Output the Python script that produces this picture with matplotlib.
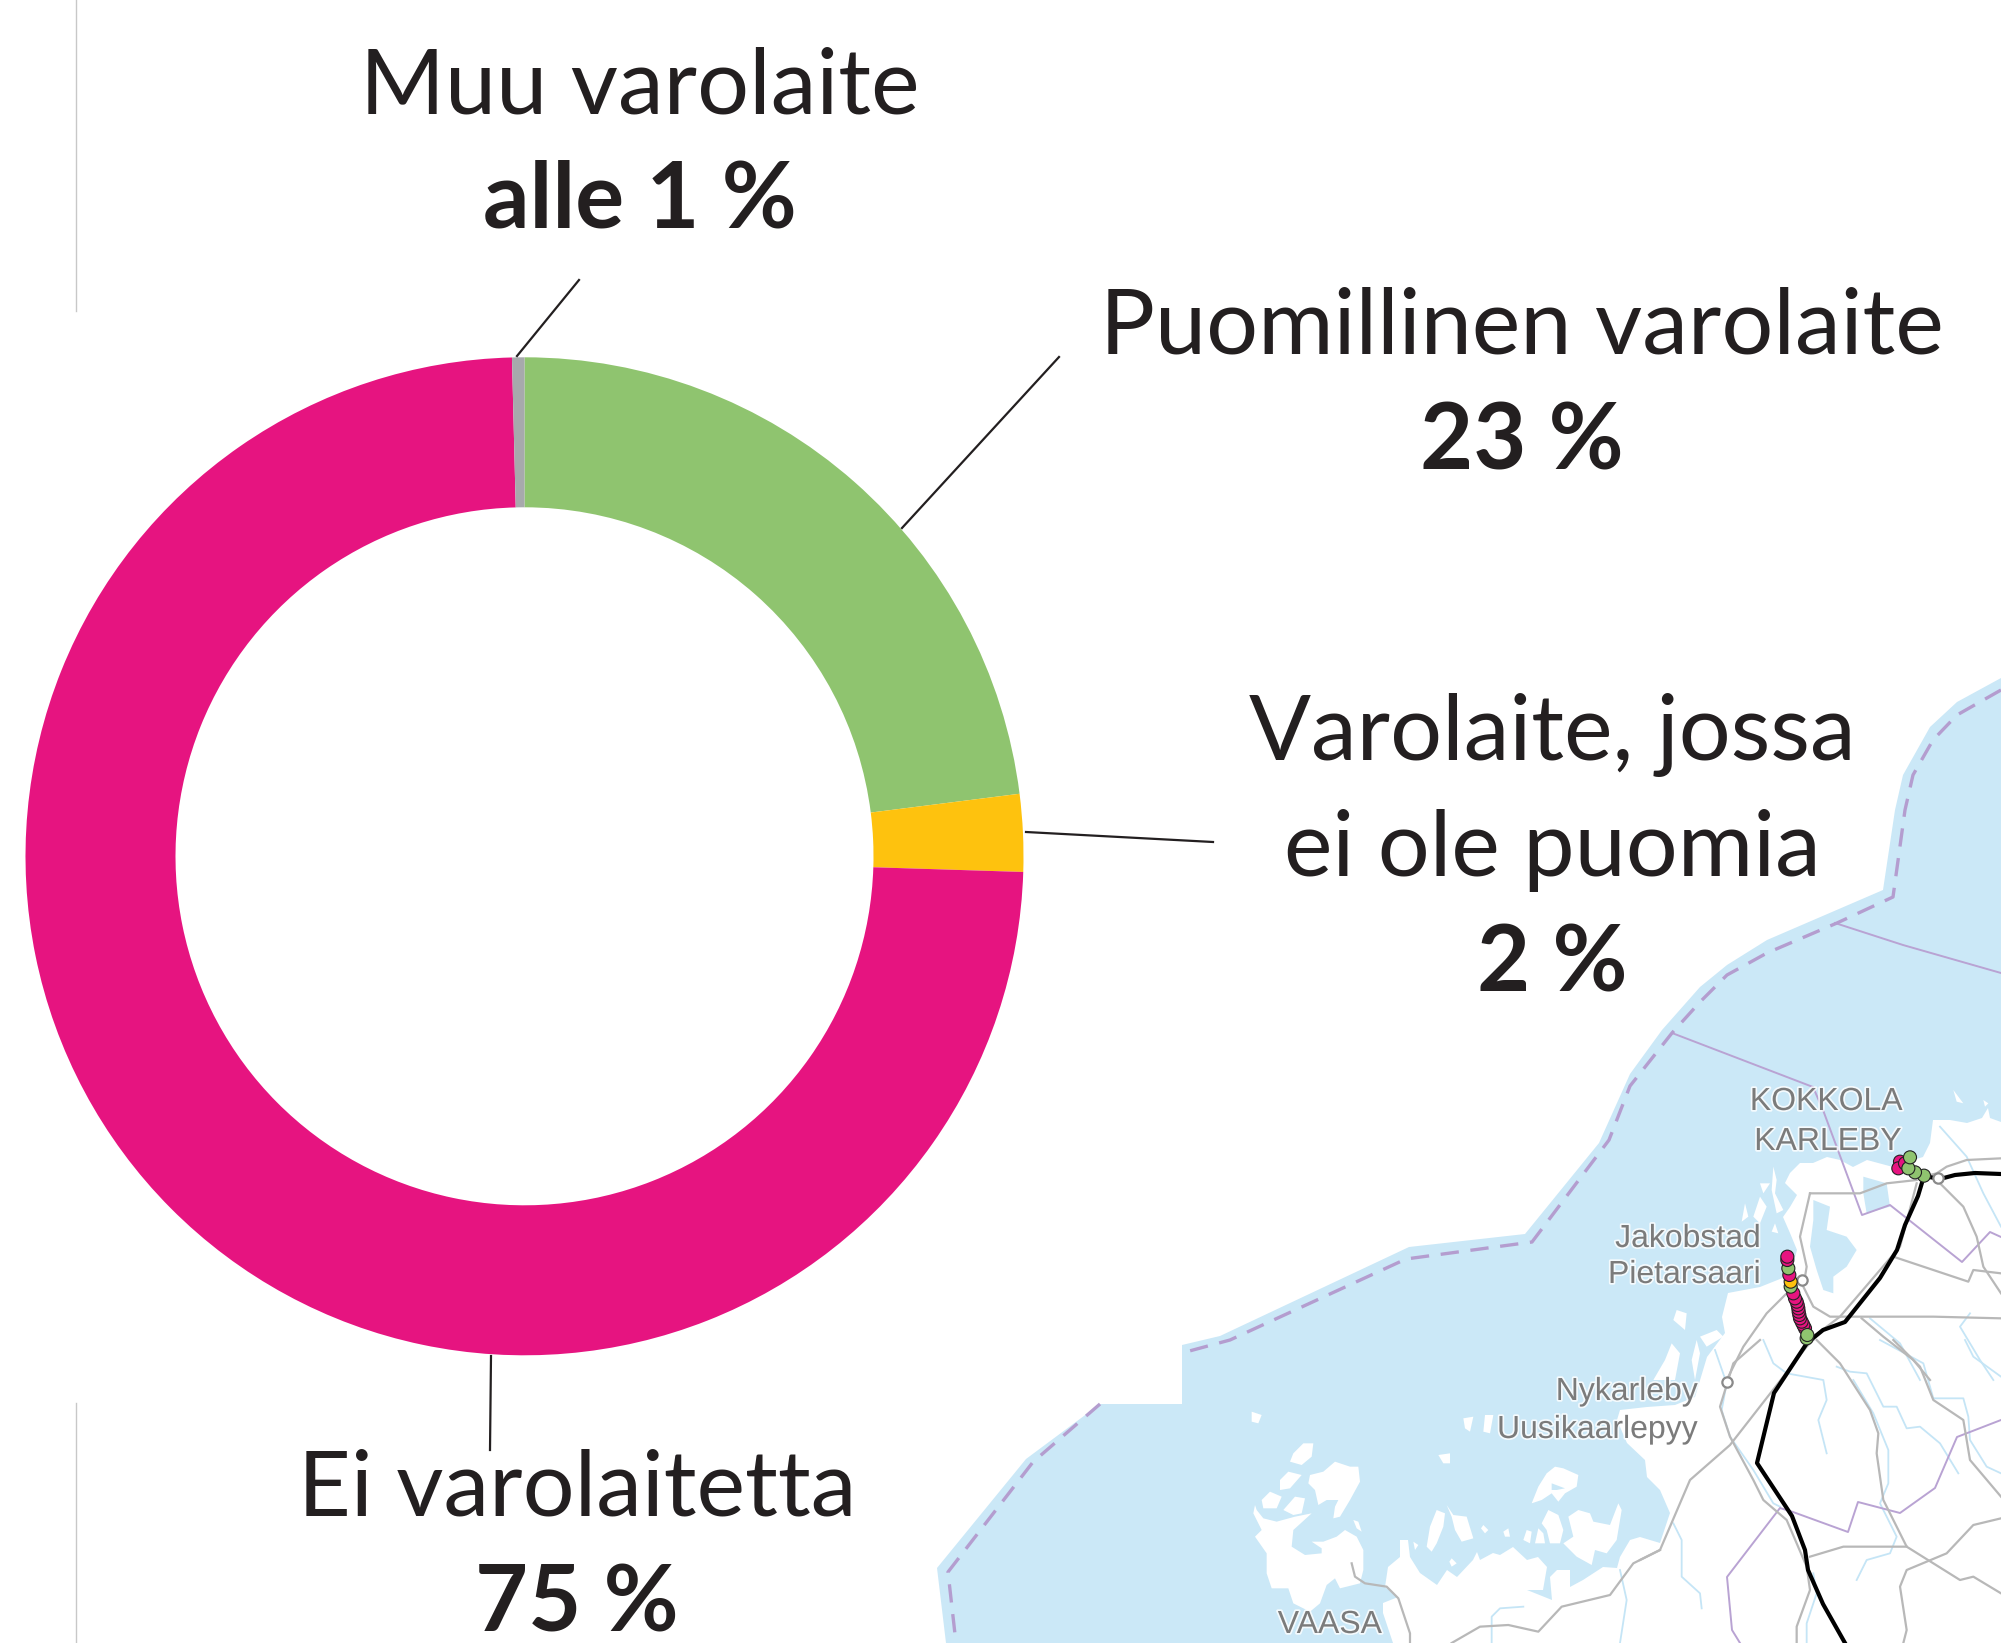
import numpy as np
import matplotlib
matplotlib.use("Agg")
import matplotlib.pyplot as plt
import matplotlib.patheffects as pe

W, H = 2001, 1643
FONT = "Lato"

# donitsi: osuudet (%) myotapaivaan ylhaalta
osuudet = [23.0, 2.5, 74.1, 0.4]
osuus_varit = ["#8fc46f", "#fec20e", "#e61480", "#a7a9ac"]

otsikot = ["Muu varolaite", "Puomillinen varolaite", "Varolaite, jossa\nei ole puomia", "Ei varolaitetta"]
arvot = ["alle 1 %", "23 %", "2 %", "75 %"]

# kartta, koordinaatit kuvapikseleina
meri_reuna = [(2001, 678), (1957, 702), (1930, 727), (1903, 775), (1895, 810), (1883, 890), (1767, 940), (1727, 965),
              (1700, 987), (1662, 1030), (1630, 1074), (1599, 1143), (1525, 1234), (1409, 1247), (1220, 1336),
              (1182, 1345), (1182, 1404), (1100, 1404), (1026, 1459), (937, 1568), (946, 1643), (2001, 1643)]
katkoviiva_1 = [(2001, 690), (1957, 715), (1933, 740), (1913, 775), (1905, 810), (1893, 897), (1837, 923), (1767, 953),
                (1727, 975), (1700, 1002), (1672, 1033), (1630, 1086), (1609, 1140), (1532, 1242), (1406, 1259),
                (1230, 1340), (1182, 1353)]
katkoviiva_2 = [(1100, 1404), (1033, 1462), (948, 1572), (956, 1643)]
rannikko = [(2001, 1122), (1990, 1118), (1988, 1108), (1982, 1118), (1967, 1123), (1950, 1120), (1933, 1120),
            (1930, 1143), (1923, 1157), (1903, 1163), (1893, 1167), (1867, 1160), (1853, 1167), (1840, 1160),
            (1827, 1157), (1813, 1163), (1800, 1163), (1790, 1173), (1785, 1183), (1797, 1195), (1790, 1207),
            (1783, 1217), (1790, 1233), (1797, 1250), (1790, 1275), (1760, 1287), (1728, 1293), (1722, 1317),
            (1725, 1333), (1707, 1357), (1695, 1397), (1675, 1405), (1647, 1407), (1620, 1410), (1617, 1420),
            (1627, 1443), (1645, 1460), (1647, 1477), (1660, 1490), (1670, 1513), (1660, 1543), (1640, 1537),
            (1630, 1540), (1620, 1557), (1617, 1568), (1603, 1567), (1583, 1580), (1570, 1587), (1570, 1570),
            (1557, 1570), (1550, 1577), (1552, 1600), (1527, 1590), (1543, 1590), (1547, 1567), (1538, 1557),
            (1527, 1560), (1513, 1547), (1500, 1555), (1493, 1553), (1480, 1560), (1477, 1552), (1473, 1560),
            (1457, 1577), (1447, 1570), (1437, 1585), (1420, 1573), (1410, 1557), (1408, 1540), (1400, 1540),
            (1400, 1557), (1388, 1567), (1385, 1587), (1398, 1597), (1383, 1603), (1383, 1613), (1393, 1643),
            (2001, 1643)]

# saaret, rajattu suurennoksesta (1180, 1340), 3x
saaret_etela = [
    [(225, 495), (220, 520), (245, 570), (225, 590), (260, 640), (260, 700), (275, 745), (325, 745), (340, 790),
     (390, 815), (420, 790), (440, 735), (465, 715), (480, 745), (540, 730), (550, 690), (550, 630), (530, 590),
     (495, 570), (470, 590), (430, 605), (395, 605), (425, 625), (425, 640), (375, 645), (335, 620), (340, 570),
     (395, 520), (345, 530), (290, 545), (250, 535), (230, 510)],
    [(370, 310), (400, 310), (395, 350), (365, 375), (330, 365), (340, 340)],
    [(325, 395), (365, 405), (330, 445), (300, 450), (300, 420)],
    [(270, 455), (305, 470), (290, 505), (250, 505), (245, 480)],
    [(345, 470), (375, 475), (365, 520), (340, 525), (310, 510)],
    [(465, 365), (510, 380), (535, 380), (540, 425), (510, 480), (480, 530), (460, 535), (465, 500), (475, 480),
     (440, 480), (415, 495), (405, 450), (385, 430), (390, 405), (430, 395)],
    [(215, 215), (245, 225), (235, 250), (215, 245)],
    [(520, 540), (535, 545), (545, 575), (530, 565)],
    [(850, 235), (880, 230), (870, 275), (855, 265)],
    [(915, 225), (940, 225), (930, 280), (910, 275)],
    [(775, 345), (810, 340), (810, 370), (790, 370)],
    [(1125, 380), (1150, 385), (1195, 405), (1190, 440), (1155, 460), (1135, 485), (1115, 460), (1085, 480),
     (1055, 490), (1075, 440), (1100, 400)],
    [(770, 510), (795, 520), (790, 560), (770, 610), (755, 635), (740, 620), (750, 560)],
    [(800, 495), (820, 525), (860, 530), (880, 595), (845, 605), (825, 570), (815, 530)],
    [(910, 555), (925, 570), (915, 580), (903, 565)],
    [(985, 565), (990, 590), (975, 590), (970, 575)],
    [(1040, 570), (1055, 575), (1050, 610), (1030, 600)],
    [(1075, 565), (1090, 580), (1095, 610), (1065, 610)],
    [(1105, 510), (1135, 525), (1150, 570), (1140, 610), (1110, 610), (1100, 570), (1085, 550)],
    [(1195, 510), (1230, 520), (1240, 545), (1290, 555), (1315, 490), (1325, 510), (1310, 600), (1280, 640),
     (1245, 630), (1235, 675), (1190, 650), (1150, 610), (1180, 590), (1165, 530)],
    [(815, 655), (830, 670), (815, 680), (808, 665)],
    [(700, 605), (715, 615), (705, 630)],
]
# rajattu suurennoksesta (1600, 1060), 3x
saaret_pohjoinen = [
    [(480, 370), (510, 370), (490, 400)],
    [(520, 320), (530, 360), (525, 400), (550, 450), (530, 460), (515, 390)],
    [(480, 410), (500, 440), (480, 490), (460, 470)],
    [(435, 430), (445, 470), (425, 485)],
    [(525, 490), (535, 520), (515, 515)],
    [(230, 750), (260, 760), (255, 810), (220, 780)],
    [(350, 810), (370, 830), (320, 860), (300, 830)],
    [(215, 850), (240, 880), (225, 960), (160, 960), (195, 900)],
    [(290, 840), (300, 880), (285, 960), (275, 900)],
    [(1060, 90), (1090, 130), (1070, 125)],
    [(1150, 120), (1165, 130), (1155, 140)],
]
jarvet_pohjoinen = [
    [(640, 420), (690, 440), (680, 510), (740, 530), (770, 570), (740, 620), (700, 650), (700, 700), (670, 690),
     (650, 630), (630, 560), (640, 480)],
    [(790, 350), (860, 370), (870, 440), (800, 460), (790, 400)],
]
jarvet_etela = [[(1115, 430), (1155, 445), (1130, 450), (1115, 450)]]

rautatie = [(2001, 1174), (1975, 1173), (1955, 1175), (1940, 1179), (1924, 1176), (1918, 1196), (1905, 1225),
            (1897, 1250), (1880, 1278), (1845, 1322), (1823, 1330), (1807, 1343), (1774, 1393), (1757, 1463),
            (1792, 1516), (1805, 1550), (1808, 1570), (1823, 1604), (1845, 1643)]

# maantiet suurennoksesta (1640, 1340), 3x
tiet_5 = [
    [(0, 660), (60, 630), (150, 420), (270, 315), (500, 20), (520, 0)],
    [(530, 0), (600, 70), (690, 210), (715, 280), (710, 340), (730, 480), (800, 620), (960, 720), (1000, 710),
     (1083, 760)],
    [(760, 0), (840, 80), (880, 180), (970, 240), (990, 360), (1083, 470)],
    [(1083, 535), (1000, 555), (920, 640), (800, 690), (780, 740), (800, 870), (790, 909)],
    [(510, 650), (610, 620), (800, 620)],
    [(360, 0), (280, 70), (240, 200), (270, 290), (340, 420), (370, 480), (440, 540), (500, 680), (510, 750),
     (470, 860), (470, 909)],
]
tiet_4 = [
    [(1440, 630), (1360, 670), (1290, 765), (1145, 800), (1075, 875), (985, 855), (900, 860), (815, 909)],
    [(515, 670), (525, 710), (555, 730), (620, 740), (655, 775), (690, 880), (690, 909)],
]
tiet_2 = [
    [(1203, 295), (1100, 300), (1040, 320), (1010, 340), (970, 350)],
    [(1020, 370), (1090, 440), (1130, 530), (1150, 620), (1203, 700)],
    [(880, 590), (1000, 630), (1105, 665), (1120, 630), (1203, 640)],
    [(630, 400), (600, 530), (620, 620), (610, 680), (640, 740), (690, 770), (1000, 770), (1203, 775)],
    [(630, 400), (780, 400), (860, 370), (950, 360)],
    [(640, 830), (720, 770), (900, 560), (950, 370)],
    [(560, 700), (500, 760), (430, 860), (380, 960)],
    [(785, 775), (850, 830), (940, 900), (990, 960)],
]
joet_5 = [
    [(225, 30), (260, 130), (245, 210), (270, 290), (340, 390), (400, 490), (420, 500)],
    [(370, 0), (400, 70), (440, 100), (550, 120), (560, 180), (535, 240), (560, 340)],
    [(590, 80), (630, 95), (680, 100), (730, 200), (770, 200), (800, 265), (840, 260), (900, 310), (955, 400)],
    [(640, 120), (700, 220), (745, 330), (745, 430), (720, 490), (770, 590), (750, 640), (680, 660), (650, 720)],
    [(100, 550), (125, 600), (125, 710), (180, 760), (185, 805)],
    [(520, 700), (530, 760), (500, 850), (500, 909)],
    [(880, 175), (970, 175), (985, 230), (990, 300), (1040, 380), (1083, 400)],
    [(975, 0), (1000, 50), (1083, 110)],
    [(720, 0), (850, 70), (880, 175)],
]
joet_4 = [
    [(935, 909), (935, 830), (960, 805), (1030, 800)],
    [(1320, 690), (1340, 780), (1320, 909)],
]
joet_2 = [
    [(1020, 200), (1100, 290), (1150, 400), (1203, 500)],
    [(1110, 760), (1080, 800), (1140, 900), (1180, 960)],
    [(810, 775), (900, 850), (960, 960)],
]
rajat = [
    [(1835, 923), (1903, 945), (2001, 973)],
    [(1672, 1033), (1813, 1087), (1823, 1110), (1862, 1215), (1890, 1205), (1962, 1262), (1990, 1232), (2001, 1237)],
    [(2001, 1420), (1957, 1437), (1935, 1488), (1900, 1513), (1858, 1502), (1848, 1532), (1793, 1512), (1780, 1508),
     (1727, 1577), (1732, 1630), (1740, 1643)],
]

# tasoristeykset suurennoksesta (1600, 1060), 3x
risteys_x = [615, 610, 605, 600, 598, 596, 595, 593, 590, 585, 580, 572, 572, 568, 565, 562, 562, 620, 622,
             900, 895, 915, 972, 945, 925, 930]
risteys_y = [805, 795, 785, 775, 765, 755, 745, 735, 725, 715, 700, 680, 665, 645, 625, 600, 590, 835, 825,
             305, 325, 310, 347, 337, 325, 292]
risteys_luokka = ["ei", "ei", "ei", "ei", "ei", "ei", "ei", "ei", "ei", "ei", "ei", "puomi", "muu", "ei", "puomi",
                  "ei", "ei", "puomi", "puomi", "ei", "ei", "ei", "puomi", "puomi", "puomi", "puomi"]
luokka_varit = {"ei": "#e61480", "puomi": "#8fc46f", "muu": "#fec20e"}

kaupungit_x = [1727, 1802, 1938]
kaupungit_y = [1382, 1280, 1178]

MERI = "#cbe8f7"


def kuvaan(pisteet, x0, y0):
    p = np.array(pisteet, dtype=float)
    return p[:, 0] / 3 + x0, p[:, 1] / 3 + y0


fig = plt.figure(figsize=(W / 100, H / 100), dpi=100, facecolor="white")

# kartta
kartta = fig.add_axes([0, 0, 1, 1])
kartta.set_xlim(0, W)
kartta.set_ylim(H, 0)
kartta.axis("off")

kartta.fill(*zip(*meri_reuna), color=MERI, lw=0, zorder=1)
kartta.fill(*zip(*rannikko), color="white", lw=0, zorder=2)
for s in saaret_etela:
    kartta.fill(*kuvaan(s, 1180, 1340), color="white", lw=0, zorder=2)
for s in saaret_pohjoinen:
    kartta.fill(*kuvaan(s, 1600, 1060), color="white", lw=0, zorder=2)
for s in jarvet_pohjoinen:
    kartta.fill(*kuvaan(s, 1600, 1060), color=MERI, lw=0, zorder=3)
for s in jarvet_etela:
    kartta.fill(*kuvaan(s, 1180, 1340), color=MERI, lw=0, zorder=3)

for joet, x0, y0 in [(joet_5, 1640, 1340), (joet_4, 1180, 1340), (joet_2, 1600, 1060)]:
    for j in joet:
        kartta.plot(*kuvaan(j, x0, y0), color="#c5e5f6", lw=1.3, zorder=3)
for r in rajat:
    kartta.plot(*zip(*r), color="#b9a3d3", lw=1.4, zorder=4)
for tiet, x0, y0 in [(tiet_5, 1640, 1340), (tiet_4, 1180, 1340), (tiet_2, 1600, 1060)]:
    for t in tiet:
        kartta.plot(*kuvaan(t, x0, y0), color="#b8b8b8", lw=1.6, zorder=5)

for k in [katkoviiva_1, katkoviiva_2]:
    kartta.plot(*zip(*k), color="#b49dcf", lw=2.4, dashes=(5.5, 3.5), zorder=4)

kartta.plot(*zip(*rautatie), color="black", lw=3, solid_joinstyle="round", zorder=6)
kartta.scatter(kaupungit_x, kaupungit_y, s=55, facecolor="white", edgecolor="#8a8a8a", linewidth=1.6, zorder=6)

rx, ry = kuvaan(list(zip(risteys_x, risteys_y)), 1600, 1060)
kartta.scatter(rx, ry, s=88, c=[luokka_varit[l] for l in risteys_luokka], edgecolor="#222222", linewidth=0.8, zorder=7)

halo = [pe.withStroke(linewidth=2.5, foreground="white", alpha=0.8)]
for txt, x, y, ha in [("KOKKOLA", 1903, 1110, "right"), ("KARLEBY", 1902, 1150, "right"),
                      ("Jakobstad", 1761, 1247, "right"), ("Pietarsaari", 1761, 1283, "right"),
                      ("Nykarleby", 1698, 1400, "right"), ("Uusikaarlepyy", 1698, 1438, "right"),
                      ("VAASA", 1330, 1633, "center")]:
    kartta.text(x, y, txt, family="Liberation Sans", fontsize=23, color="#7b7b7b", ha=ha, va="baseline",
                path_effects=halo, zorder=8)

# donitsi
cx, cy, R = 524.5, 856.3, 499
donitsi = fig.add_axes([(cx - R) / W, 1 - (cy + R) / H, 2 * R / W, 2 * R / H])
donitsi.pie(osuudet, colors=osuus_varit, startangle=90, counterclock=False, radius=1,
            wedgeprops=dict(width=150 / R, linewidth=0))
donitsi.set_xlim(-1, 1)
donitsi.set_ylim(-1, 1)
donitsi.axis("off")

# tekstit ja viivat
paalla = fig.add_axes([0, 0, 1, 1])
paalla.patch.set_alpha(0)
paalla.set_xlim(0, W)
paalla.set_ylim(H, 0)
paalla.axis("off")

paalla.plot([76, 76], [0, 311], color="#c8c8c8", lw=1)
paalla.plot([76, 76], [1403, 1643], color="#c8c8c8", lw=1)

for (x1, y1), (x2, y2) in [((517, 356), (579, 280)), ((902, 528), (1059, 357)),
                           ((1026, 832), (1213, 842)), ((491, 1356), (490, 1450))]:
    paalla.plot([x1, x2], [y1, y2], color="#231f20", lw=1.6)

KOKO = 66
VARI = "#231f20"
teksti_x = [640, 1522, 1552, 577]
teksti_y = [[113], [353], [760, 876], [1516]]
arvo_y = [228, 470, 992, 1632]
for otsikko, arvo, x, rivit_y, ay in zip(otsikot, arvot, teksti_x, teksti_y, arvo_y):
    for rivi, y in zip(otsikko.split("\n"), rivit_y):
        paalla.text(x, y, rivi, family=FONT, fontsize=KOKO, color=VARI, ha="center", va="baseline")
    paalla.text(x, ay, arvo, family=FONT, fontsize=KOKO, weight="bold", color=VARI, ha="center", va="baseline")

fig.savefig("out.png", dpi=100)
